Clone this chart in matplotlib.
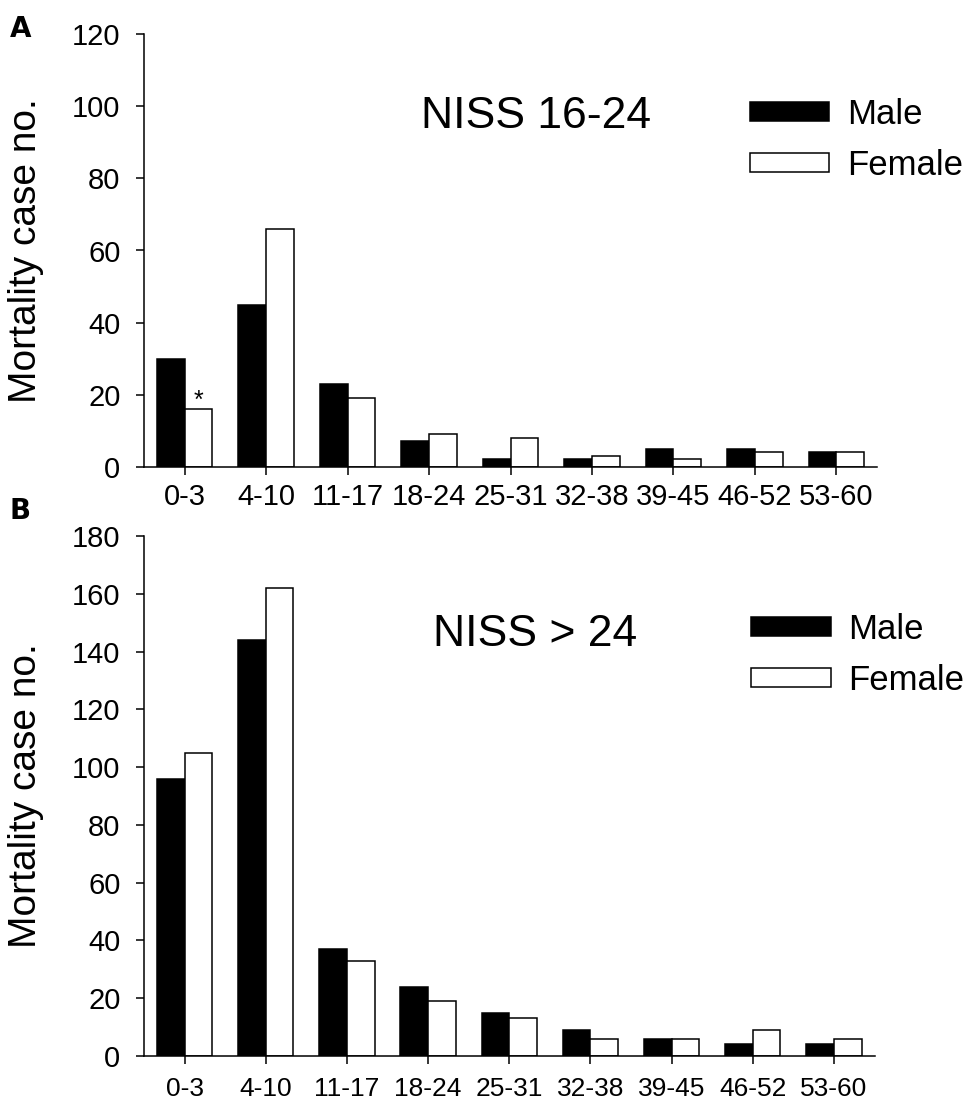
import matplotlib
matplotlib.use("Agg")
import matplotlib.pyplot as plt
import numpy as np

plt.rcParams['font.family'] = ['Liberation Sans', 'DejaVu Sans']

categories = ["0-3", "4-10", "11-17", "18-24", "25-31", "32-38", "39-45", "46-52", "53-60"]
male_a = [30, 45, 23, 7, 2, 2, 5, 5, 4]
female_a = [16, 66, 19, 9, 8, 3, 2, 4, 4]
male_b = [96, 144, 37, 24, 15, 9, 6, 4, 4]
female_b = [105, 162, 33, 19, 13, 6, 6, 9, 6]
series_labels = ["Male", "Female"]
titles = ["NISS 16-24", "NISS > 24"]

W, H = 964, 1102
fig = plt.figure(figsize=(W / 100, H / 100), dpi=100)

def px_axes(left, top, right, bottom):
    return fig.add_axes([left / W, 1 - bottom / H, (right - left) / W, (bottom - top) / H])

ax_a = px_axes(144, 34.3, 877, 466.7)
ax_b = px_axes(144, 536, 874.5, 1056)

x = np.arange(len(categories))
bw = 0.34

def draw(ax, male, female, ymax, ystep, xfs, xpad, title, title_xy, leg_xy):
    bm = ax.bar(x - bw / 2, male, bw, color='black', edgecolor='black', linewidth=1.1, label=series_labels[0])
    bf = ax.bar(x + bw / 2, female, bw, color='white', edgecolor='black', linewidth=1.1, label=series_labels[1])
    ax.set_xlim(-0.5, len(categories) - 0.5)
    ax.set_ylim(0, ymax)
    ax.set_yticks(np.arange(0, ymax + 1, ystep))
    ax.set_xticks(x)
    ax.set_xticklabels(categories)
    for s in ['top', 'right']:
        ax.spines[s].set_visible(False)
    for s in ['left', 'bottom']:
        ax.spines[s].set_linewidth(1.1)
    ax.tick_params(axis='y', direction='out', length=5.5, width=1.1, labelsize=21, pad=11.5)
    ax.tick_params(axis='x', direction='out', length=5.5, width=1.1, labelsize=xfs, pad=xpad)
    ax.set_ylabel("Mortality case no.", fontsize=28)
    ax.yaxis.set_label_coords(-0.137, 0.5)
    fig.text(title_xy[0] / W, 1 - title_xy[1] / H, title, fontsize=32, ha='center', va='center')
    ax.legend(handles=[bm, bf], loc='center left',
              bbox_to_anchor=(leg_xy[0] / W, 1 - leg_xy[1] / H), bbox_transform=fig.transFigure,
              frameon=False, fontsize=25, handlelength=2.3, handleheight=0.46,
              handletextpad=0.5, labelspacing=0.52, borderpad=0, borderaxespad=0)
    return bf

bf_a = draw(ax_a, male_a, female_a, 120, 20, 21, 6, titles[0], (536, 116), (749.5, 140))
draw(ax_b, male_b, female_b, 180, 20, 19, 9.5, titles[1], (535.5, 635), (751, 655))

# significance marker on female 0-3 bar in panel A
ax_a.annotate("*", xy=(x[0] + bw / 2, female_a[0]), xytext=(0, 1), textcoords='offset points',
              ha='center', va='baseline', fontsize=18)

fig.text(10 / W, 1 - 37 / H, "A", fontsize=20, fontweight='heavy', family='DejaVu Sans', ha='left', va='baseline')
fig.text(10 / W, 1 - 519 / H, "B", fontsize=20, fontweight='heavy', family='DejaVu Sans', ha='left', va='baseline')

fig.savefig("out.png", dpi=100)
